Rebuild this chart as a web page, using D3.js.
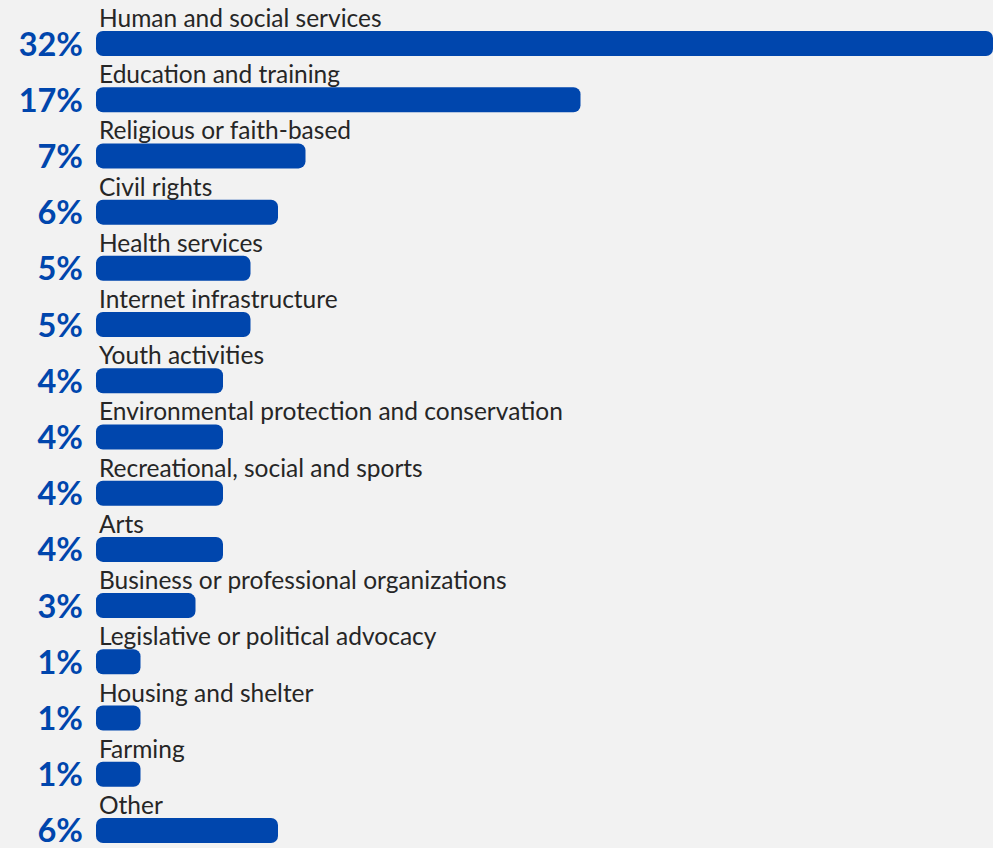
<!DOCTYPE html>
<html>
<head>
<meta charset="utf-8">
<script src="https://cdn.jsdelivr.net/npm/d3@7/dist/d3.min.js"></script>
<style>
  html, body { margin: 0; padding: 0; background: #f2f2f2; }
  svg { display: block; }
</style>
</head>
<body>
<script>
// data
const categories = [
  "Human and social services",
  "Education and training",
  "Religious or faith-based",
  "Civil rights",
  "Health services",
  "Internet infrastructure",
  "Youth activities",
  "Environmental protection and conservation",
  "Recreational, social and sports",
  "Arts",
  "Business or professional organizations",
  "Legislative or political advocacy",
  "Housing and shelter",
  "Farming",
  "Other"
];
const shares = [32, 17, 7, 6, 5, 5, 4, 4, 4, 4, 3, 1, 1, 1, 6];
const shareLabels = shares.map(v => v + "%");

const width = 993, height = 848;
const barLeft = 96;      // bars start here
const capWidth = 17;     // rounded end adds a minimum length
const rowStep = 56.21;
const barH = 25;
const blue = "#0046ad";

const svg = d3.select("body").append("svg")
  .attr("width", width)
  .attr("height", height);

svg.append("rect")
  .attr("width", width).attr("height", height)
  .attr("fill", "#f2f2f2");

const x = d3.scaleLinear()
  .domain([0, d3.max(shares)])
  .range([barLeft + capWidth, width]);

const y = d3.scaleBand()
  .domain(categories)
  .range([31, 31 + rowStep * categories.length])
  .paddingInner(0)
  .paddingOuter(0);

const rows = svg.selectAll("g.row")
  .data(categories.map((c, i) => ({ name: c, value: shares[i], label: shareLabels[i] })))
  .join("g")
  .attr("class", "row")
  .attr("transform", d => "translate(0," + y(d.name) + ")");

// bars
rows.append("rect")
  .attr("x", barLeft)
  .attr("y", 0)
  .attr("width", d => x(d.value) - barLeft)
  .attr("height", barH)
  .attr("rx", 7)
  .attr("ry", 7)
  .attr("fill", blue);

// category names above the bars
rows.append("text")
  .attr("x", 99)
  .attr("y", -4)
  .attr("font-family", "Lato, 'Open Sans', sans-serif")
  .attr("font-size", 24.5)
  .attr("fill", "#262626")
  .text(d => d.name);

// percentages on the left
rows.append("text")
  .attr("x", 83)
  .attr("y", barH - 0.5)
  .attr("text-anchor", "end")
  .attr("font-family", "Lato, 'Open Sans', sans-serif")
  .attr("font-weight", "bold")
  .attr("font-size", 32.5)
  .attr("fill", blue)
  .text(d => d.label);
</script>
</body>
</html>
